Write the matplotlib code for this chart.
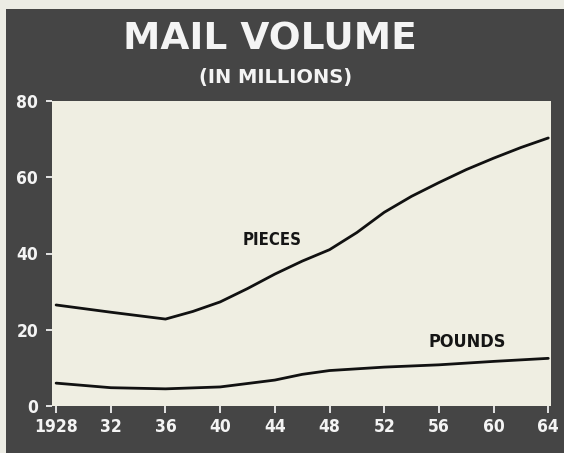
import matplotlib.pyplot as plt
from matplotlib.patches import Rectangle
from matplotlib import font_manager

# данные (в миллионах)
years_pieces = [1928, 1932, 1936, 1938, 1940, 1942, 1944, 1946, 1948, 1950,
                1952, 1954, 1956, 1958, 1960, 1962, 1964]
pieces = [26.5, 24.6, 22.8, 24.8, 27.3, 30.8, 34.6, 38.0, 41.0, 45.5,
          50.8, 55.0, 58.6, 62.0, 65.0, 67.8, 70.3]

years_pounds = [1928, 1932, 1936, 1940, 1944, 1946, 1948, 1952, 1956, 1960, 1964]
pounds = [6.0, 4.8, 4.5, 5.0, 6.8, 8.3, 9.3, 10.2, 10.8, 11.7, 12.5]

xticks = [1928, 1932, 1936, 1940, 1944, 1948, 1952, 1956, 1960, 1964]
xlabels = ['1928', '32', '36', '40', '44', '48', '52', '56', '60', '64']
yticks = [0, 20, 40, 60, 80]

bg = '#454545'
paper = '#efeee2'

# узкий жирный шрифт для подписей
narrow = font_manager.FontProperties(family='DejaVu Sans', weight='bold', stretch='condensed')

fig = plt.figure(figsize=(5.64, 4.53), dpi=100)
fig.patch.set_facecolor('#ecece4')
# тёмный фон
fig.patches.append(Rectangle((6 / 564, 0), 1, 1 - 9 / 453, transform=fig.transFigure,
                             facecolor=bg, edgecolor='none', zorder=-5))

ax = fig.add_axes([52 / 564, (453 - 406) / 453, (551 - 52) / 564, (406 - 101) / 453])
ax.set_zorder(2)
ax.set_facecolor(paper)
ax.plot(years_pieces, pieces, color='#111111', lw=2.0, solid_capstyle='round')
ax.plot(years_pounds, pounds, color='#111111', lw=2.0, solid_capstyle='round')

ax.set_xlim(1927.7, 1964.2)
ax.set_ylim(0, 80)
for s in ax.spines.values():
    s.set_visible(False)

ax.set_xticks(xticks)
ax.set_xticklabels(xlabels)
ax.set_yticks(yticks)
ax.tick_params(axis='x', colors='white', length=5, width=1.2, pad=4)
ax.tick_params(axis='y', colors='white', length=4, width=1.2, pad=6)
for lab in ax.get_xticklabels() + ax.get_yticklabels():
    lab.set_fontproperties(narrow)
    lab.set_fontsize(12.5)
    lab.set_color('#f4f4f4')

ax.text(1943.8, 43.5, 'PIECES', fontproperties=narrow, fontsize=12,
        color='#151515', ha='center', va='center')
ax.text(1958.1, 16.8, 'POUNDS', fontproperties=narrow, fontsize=13,
        color='#151515', ha='center', va='center')

fig.text(270 / 564, 1 - 40 / 453, 'MAIL VOLUME', fontsize=27, fontweight='bold',
         color='#f4f4f4', ha='center', va='center', zorder=3)
fig.text(276 / 564, 1 - 77 / 453, '(IN MILLIONS)', fontsize=14, fontweight='bold',
         color='#f4f4f4', ha='center', va='center', zorder=3)

fig.savefig('out.png', dpi=100, facecolor=fig.get_facecolor())
